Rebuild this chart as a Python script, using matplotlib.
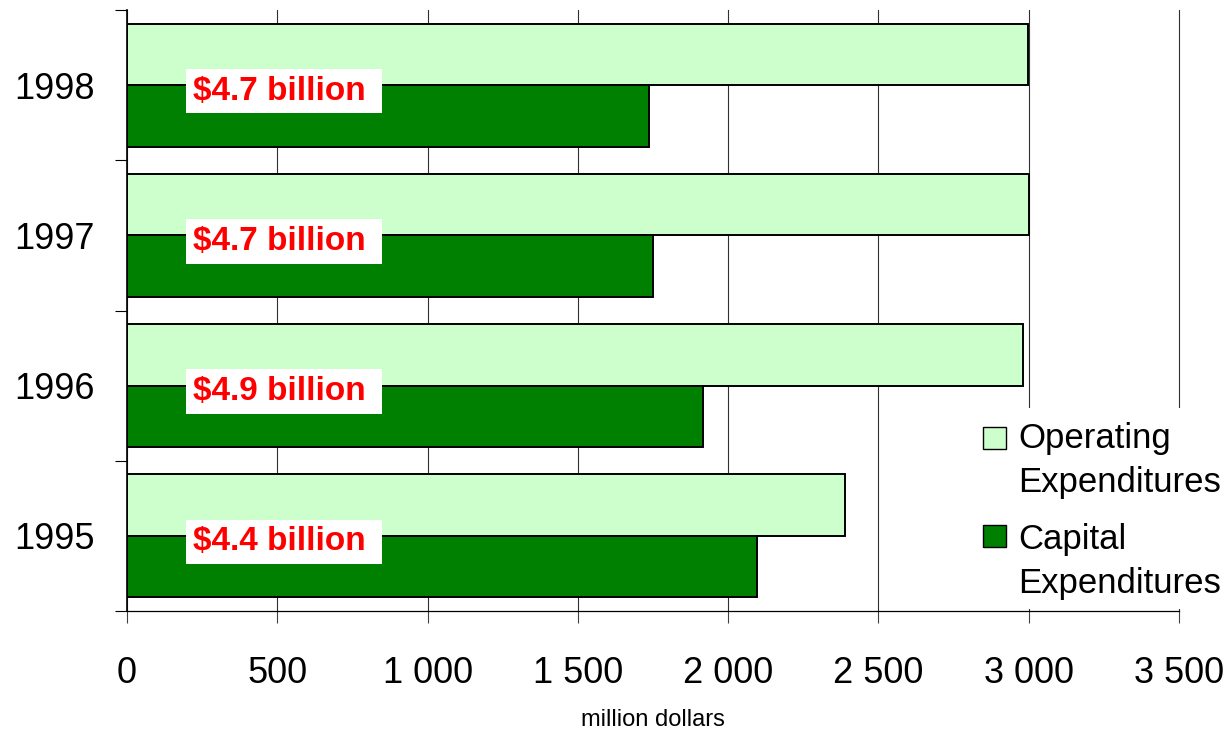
#! /usr/bin/env python3

'''
Horizontal grouped bars of operating and capital expenditures, 1995-1998
'''

import matplotlib
matplotlib.use('Agg')
import matplotlib.pyplot as plt
import matplotlib.patches as mpatches
import numpy as np


years = ['1995', '1996', '1997', '1998']
operating = [2389, 2981, 3000, 2997]
capital = [2096, 1916, 1750, 1737]
totals = ['$4.4 billion', '$4.9 billion', '$4.7 billion', '$4.7 billion']
series_names = ['Operating\nExpenditures', 'Capital\nExpenditures']
x_ticks = [0, 500, 1000, 1500, 2000, 2500, 3000, 3500]
x_tick_labels = ['0', '500', '1 000', '1 500', '2 000', '2 500', '3 000',
                 '3 500']
xlabel = 'million dollars'

colour_operating = '#CCFFCC'
colour_capital = '#008000'
fig_w, fig_h = 1230, 734


def px(x, y):
    '''Figure pixel (from top left) to figure fraction.'''
    return x / fig_w, 1 - y / fig_h


def main():
    plt.rcParams['font.family'] = ['Liberation Sans', 'DejaVu Sans']
    fig = plt.figure(figsize=(fig_w / 100, fig_h / 100), dpi=100)
    ax = fig.add_axes([127 / fig_w, 123 / fig_h,
                       (1179 - 127) / fig_w, 601 / fig_h])

    y = np.arange(len(years))
    height = 0.41
    ax.barh(y + height / 2, operating, height=height,
            color=colour_operating, edgecolor='black', linewidth=1.4,
            zorder=2)
    ax.barh(y - height / 2, capital, height=height,
            color=colour_capital, edgecolor='black', linewidth=1.4,
            zorder=2)

    for yi, label in zip(y, totals):
        ax.text(220, yi - 0.04, label + '\u00a0', color='#FF0000',
                fontsize=24, fontweight='bold', ha='left', va='center',
                zorder=4,
                bbox=dict(facecolor='white', edgecolor='none',
                          boxstyle='square,pad=0.2'))

    ax.set_xlim(0, 3500)
    ax.set_ylim(-0.5, len(years) - 0.5)
    ax.set_xticks(x_ticks)
    ax.set_xticklabels(x_tick_labels)
    ax.tick_params(axis='x', direction='out', length=8.6, width=0.8,
                   pad=24, labelsize=26, color='#404040')

    ax.set_yticks(np.arange(len(years) + 1) - 0.5)
    ax.set_yticklabels([])
    ax.set_yticks(y, minor=True)
    ax.set_yticklabels(years, minor=True)
    ax.tick_params(axis='y', which='major', direction='out', length=8.6,
                   width=0.8)
    ax.tick_params(axis='y', which='minor', length=0, pad=23,
                   labelsize=26)

    ax.grid(axis='x', color='#303030', linewidth=0.8)
    for line in ax.get_xgridlines():
        line.set_clip_on(False)
    ax.set_axisbelow(True)
    for spine in 'right', 'top':
        ax.spines[spine].set_visible(False)
    ax.spines['left'].set_linewidth(1.2)
    ax.spines['bottom'].set_linewidth(0.9)
    ax.set_xlabel(xlabel, fontsize=17, labelpad=13)

    # legend, drawn by hand so the swatch sits by the first line
    x0, y0 = px(975, 609)
    x1, y1 = px(1230, 408)
    fig.add_artist(mpatches.Rectangle(
        (x0, y0), x1 - x0, y1 - y0, transform=fig.transFigure,
        facecolor='white', edgecolor='none', zorder=5))
    for name, colour, top, last_base in zip(
            series_names, [colour_operating, colour_capital],
            [427, 525], [492, 593]):
        bx, by = px(983, top + 22)
        fig.add_artist(mpatches.Rectangle(
            (bx, by), 23 / fig_w, 22 / fig_h, transform=fig.transFigure,
            facecolor=colour, edgecolor='black', linewidth=1, zorder=6))
        tx, ty = px(1018, last_base)
        fig.text(tx, ty, name, fontsize=25, ha='left', va='baseline',
                 linespacing=1.44, zorder=6)

    fig.savefig('out.png', dpi=100)


if __name__ == '__main__':
    main()
